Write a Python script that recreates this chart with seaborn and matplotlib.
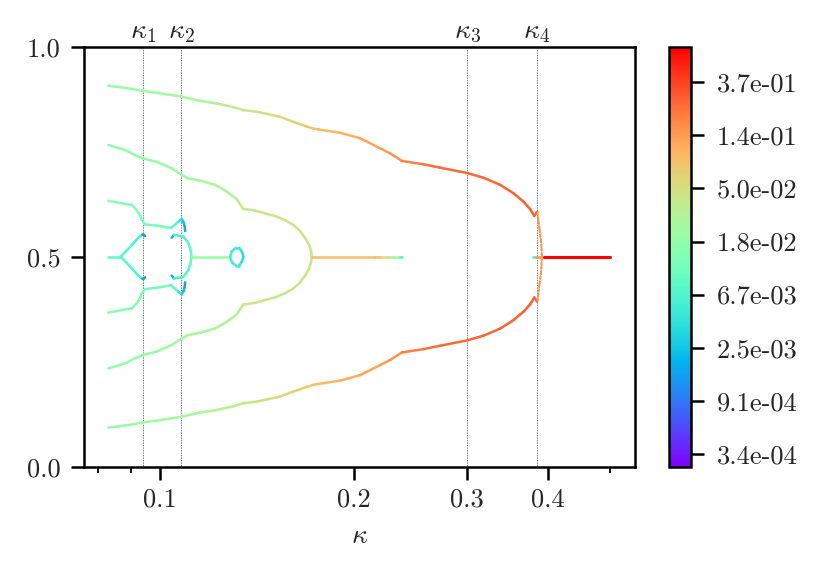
import numpy as np
import matplotlib
matplotlib.use("Agg")
import matplotlib.pyplot as plt
import seaborn as sns
from matplotlib.collections import LineCollection
from matplotlib.colors import LogNorm
from matplotlib.cm import ScalarMappable
from matplotlib.ticker import FixedLocator, NullFormatter, FixedFormatter, FormatStrFormatter, NullLocator
import matplotlib.transforms as mtransforms

# ---------------- data ----------------
# outer branch (upper / lower)
kA = [0.0831, 0.0882, 0.0940, 0.1000, 0.1081, 0.1154, 0.1225, 0.1300, 0.1347, 0.1414, 0.1465,
      0.1537, 0.1611, 0.1690, 0.1731, 0.1762, 0.1905, 0.2046, 0.2198, 0.2278, 0.2375, 0.2566,
      0.2724, 0.3004, 0.3181, 0.3377, 0.3541, 0.3670, 0.3760, 0.3814, 0.3854]
yA_up = [0.907, 0.902, 0.895, 0.889, 0.881, 0.871, 0.865, 0.856, 0.849, 0.845, 0.840,
         0.833, 0.821, 0.810, 0.805, 0.803, 0.795, 0.782, 0.758, 0.746, 0.728, 0.720,
         0.712, 0.699, 0.688, 0.671, 0.651, 0.631, 0.613, 0.597, 0.607]
yA_lo = [0.093, 0.098, 0.105, 0.111, 0.119, 0.129, 0.135, 0.144, 0.151, 0.155, 0.160,
         0.167, 0.179, 0.190, 0.195, 0.197, 0.205, 0.218, 0.242, 0.254, 0.272, 0.280,
         0.288, 0.301, 0.312, 0.329, 0.349, 0.369, 0.387, 0.403, 0.393]
cA = [0.019, 0.020, 0.021, 0.022, 0.024, 0.027, 0.031, 0.036, 0.040, 0.045, 0.050,
      0.055, 0.062, 0.075, 0.080, 0.085, 0.10, 0.115, 0.13, 0.135, 0.17, 0.22,
      0.24, 0.25, 0.255, 0.26, 0.27, 0.275, 0.28, 0.27, 0.25]

# steep part near kappa_4
kV = [0.3859, 0.3887, 0.3906, 0.3915, 0.3920]
yV_up = [0.605, 0.564, 0.540, 0.520, 0.502]
yV_lo = [0.395, 0.436, 0.460, 0.480, 0.498]
cV = [0.15, 0.15, 0.15, 0.15, 0.15]

# second branch closing into the bulb
kB = [0.0831, 0.0882, 0.0914, 0.0940, 0.0988, 0.1043, 0.1081, 0.1103, 0.1154, 0.1218, 0.1270,
      0.1316, 0.1347, 0.1405, 0.1456, 0.1509, 0.1564, 0.1611, 0.1651, 0.1680, 0.1705, 0.1717, 0.1721]
yB_up = [0.766, 0.754, 0.742, 0.734, 0.726, 0.710, 0.695, 0.687, 0.681, 0.671, 0.655,
         0.637, 0.614, 0.610, 0.603, 0.597, 0.587, 0.576, 0.561, 0.545, 0.528, 0.512, 0.500]
yB_lo = [0.234, 0.246, 0.258, 0.266, 0.274, 0.290, 0.305, 0.313, 0.319, 0.329, 0.345,
         0.363, 0.386, 0.390, 0.397, 0.403, 0.413, 0.424, 0.439, 0.455, 0.472, 0.488, 0.500]
cB = [0.018, 0.018, 0.018, 0.019, 0.020, 0.021, 0.022, 0.023, 0.025, 0.027, 0.030,
      0.034, 0.038, 0.040, 0.040, 0.041, 0.041, 0.042, 0.042, 0.042, 0.042, 0.042, 0.042]

# third branch with hook
kC = [0.0831, 0.0904, 0.0920, 0.0930, 0.0937, 0.0948, 0.0988, 0.1040, 0.1067, 0.1081, 0.1087, 0.1092, 0.1094]
yC_up = [0.633, 0.623, 0.611, 0.600, 0.587, 0.577, 0.574, 0.568, 0.583, 0.590, 0.583, 0.573, 0.561]
yC_lo = [0.367, 0.377, 0.389, 0.400, 0.413, 0.423, 0.426, 0.432, 0.417, 0.410, 0.417, 0.427, 0.439]
cC = [0.016, 0.015, 0.014, 0.013, 0.012, 0.012, 0.012, 0.011, 0.006, 0.0035, 0.0025, 0.0018, 0.0014]

# inner branch: stem and first fork
kD0 = [0.0831, 0.0869]
yD0 = [0.500, 0.500]
cD0 = [0.008, 0.008]
kD1 = [0.0869, 0.0889, 0.0908, 0.0925, 0.0937, 0.0942, 0.0948]
yD1_up = [0.500, 0.516, 0.531, 0.545, 0.552, 0.553, 0.549]
yD1_lo = [0.500, 0.484, 0.469, 0.455, 0.448, 0.447, 0.451]
cD1 = [0.008, 0.0075, 0.007, 0.0065, 0.006, 0.0015, 0.0008]

# inner branch after kappa_1, merging at y = 0.5
kD2 = [0.1043, 0.1051, 0.1087, 0.1107, 0.1115, 0.1120]
yD2_up = [0.545, 0.552, 0.548, 0.532, 0.516, 0.500]
yD2_lo = [0.455, 0.448, 0.452, 0.468, 0.484, 0.500]
cD2 = [0.0008, 0.005, 0.007, 0.007, 0.008, 0.010]

# y = 0.5 segment and small loop
kE = [0.1120, 0.1285]
yE = [0.500, 0.500]
cE = [0.020, 0.020]
kF = [0.1285, 0.1293, 0.1311, 0.1327, 0.1340, 0.1348]
yF_up = [0.500, 0.513, 0.521, 0.521, 0.512, 0.500]
yF_lo = [0.500, 0.487, 0.479, 0.479, 0.488, 0.500]
cF = [0.006, 0.0055, 0.005, 0.005, 0.004, 0.003]

# y = 0.5 segment after the bulb
kG = [0.1721, 0.2159, 0.2200, 0.2264, 0.2300, 0.2348, 0.2360, 0.2375]
yG = [0.5, 0.5, 0.5, 0.5, 0.5, 0.5, 0.5, 0.5]
cG = [0.09, 0.09, 0.075, 0.045, 0.032, 0.020, 0.012, 0.004]

# y = 0.5 after kappa_4
kH1 = [0.3804, 0.3841]; cH1 = [0.006, 0.006]
kH2 = [0.3841, 0.3943]; cH2 = [0.14, 0.14]
kH3 = [0.3943, 0.5000]; cH3 = [0.70, 0.70]
yH = [0.5, 0.5]

kappa_marks = [0.0941, 0.1079, 0.300, 0.385]
kappa_labels = [r'$\kappa_1$', r'$\kappa_2$', r'$\kappa_3$', r'$\kappa_4$']

xticks_major = [0.1, 0.2, 0.3, 0.4]
xticklabels = ['0.1', '0.2', '0.3', '0.4']
xticks_minor = [0.08, 0.09, 0.5]
yticks = [0.0, 0.5, 1.0]
yticklabels = ['0.0', '0.5', '1.0']
cbar_ticks = np.exp([-8, -7, -6, -5, -4, -3, -2, -1])
c_min, c_max = 2.63e-4, 0.72

# ---------------- style ----------------
sns.set_style("ticks")
plt.rcParams['font.family'] = 'serif'
plt.rcParams['font.serif'] = ['cmr10']
plt.rcParams['mathtext.fontset'] = 'cm'
plt.rcParams['axes.formatter.use_mathtext'] = True
plt.rcParams['axes.unicode_minus'] = False

cmap = sns.color_palette("rainbow", as_cmap=True)
norm = LogNorm(vmin=c_min, vmax=c_max)

fig = plt.figure(figsize=(8.3, 5.7), dpi=100)
ax = fig.add_axes([0.1012, 0.1812, 0.6639, 0.7369])
cax = fig.add_axes([0.8064, 0.1812, 0.0258, 0.7369])


def draw(k, y, c, lw=1.8, ls='-', z=2):
    pts = np.column_stack([k, y])
    segs = np.stack([pts[:-1], pts[1:]], axis=1)
    c = np.asarray(c, float)
    cc = np.sqrt(c[:-1] * c[1:])
    lc = LineCollection(segs, cmap=cmap, norm=norm, linewidths=lw, linestyles=ls,
                        capstyle='round', joinstyle='round', zorder=z)
    lc.set_array(cc)
    ax.add_collection(lc)


for yy in (yA_up, yA_lo):
    draw(kA, yy, cA)
for yy in (yV_up, yV_lo):
    draw(kV, yy, cV, lw=1.5, ls=(0, (1.2, 1.0)))
for yy in (yB_up, yB_lo):
    draw(kB, yy, cB)
for yy in (yC_up, yC_lo):
    draw(kC, yy, cC)
draw(kD0, yD0, cD0)
for yy in (yD1_up, yD1_lo):
    draw(kD1, yy, cD1)
for yy in (yD2_up, yD2_lo):
    draw(kD2, yy, cD2)
draw(kE, yE, cE)
for yy in (yF_up, yF_lo):
    draw(kF, yy, cF)
draw(kG, yG, cG)
draw(kH1, yH, cH1, lw=2.0)
draw(kH2, yH, cH2, lw=2.0)
draw(kH3, yH, cH3, lw=2.2, z=3)

blend = mtransforms.blended_transform_factory(ax.transData, ax.transAxes)
for km, lab in zip(kappa_marks, kappa_labels):
    ax.axvline(km, color='0.3', lw=0.6, ls=(0, (1, 1)), zorder=1)
    ax.text(km, 1.004, lab, transform=blend, ha='center', va='bottom', fontsize=20)

ax.set_xscale('log')
ax.set_xlim(0.0762, 0.547)
ax.set_ylim(0, 1)
ax.xaxis.set_major_locator(FixedLocator(xticks_major))
ax.xaxis.set_major_formatter(FixedFormatter(xticklabels))
ax.xaxis.set_minor_locator(FixedLocator(xticks_minor))
ax.xaxis.set_minor_formatter(NullFormatter())
ax.set_yticks(yticks)
ax.set_yticklabels(yticklabels)
ax.set_xlabel(r'$\kappa$', fontsize=20, labelpad=8)

for sp in ax.spines.values():
    sp.set_linewidth(1.8)
    sp.set_color('k')
ax.tick_params(which='major', length=9.5, width=1.8, labelsize=19, pad=6, color='k')
ax.tick_params(axis='y', which='major', pad=7.5)
ax.tick_params(which='minor', length=4.5, width=1.3, color='k')

sm = ScalarMappable(norm=norm, cmap=cmap)
cb = fig.colorbar(sm, cax=cax)
cb.set_ticks(cbar_ticks)
cax.yaxis.set_major_formatter(FormatStrFormatter('%.1e'))
cax.yaxis.set_minor_locator(NullLocator())
cb.outline.set_linewidth(1.8)
cb.outline.set_edgecolor('k')
cax.tick_params(which='major', length=9.5, width=1.8, labelsize=19, pad=9, color='k')

fig.savefig('out.png', dpi=100)
